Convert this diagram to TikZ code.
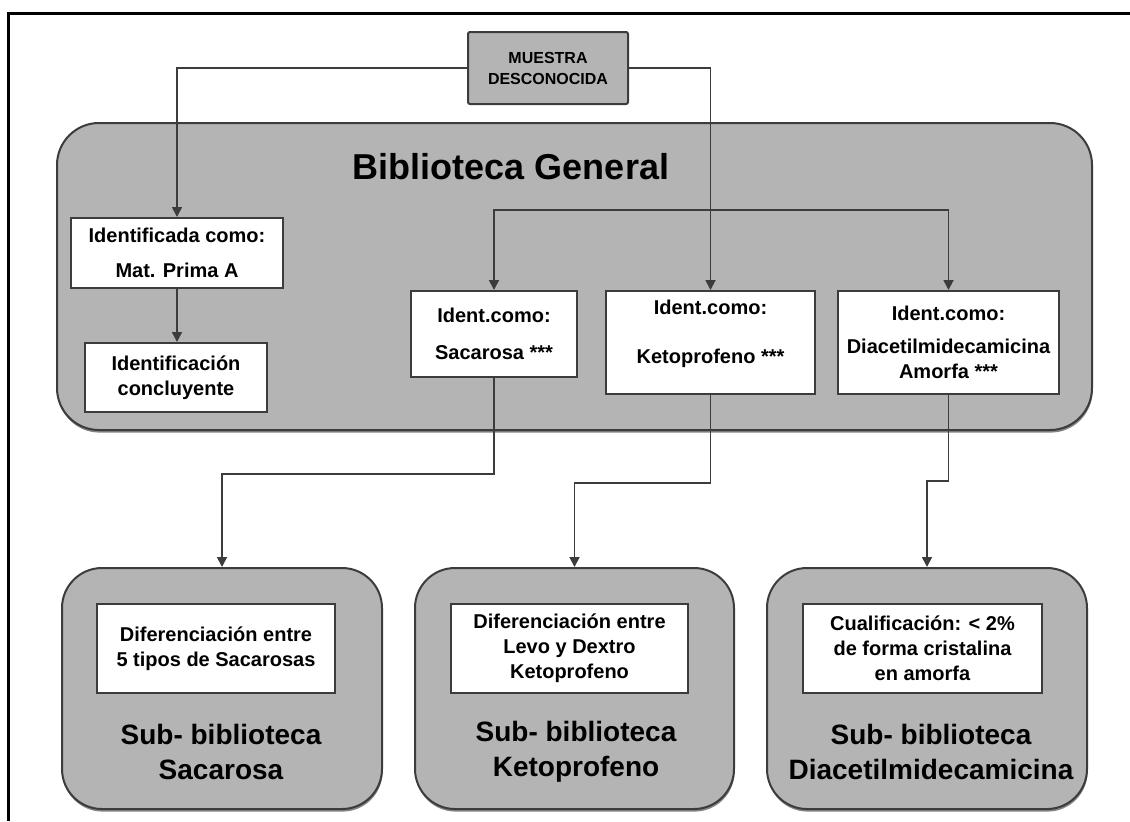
\documentclass[tikz,border=0pt]{standalone}
\usepackage{fontspec}
\setmainfont{Liberation Sans}
\usepackage{tikz}
\usetikzlibrary{arrows.meta,positioning,shadows}
\definecolor{libgray}{RGB}{180,180,180}
\definecolor{edgegray}{RGB}{60,60,60}

\begin{document}
\begin{tikzpicture}[x=0.5pt, y=-0.5pt,
    libbox/.style={rectangle, draw=edgegray, fill=libgray, line width=1pt, rounded corners=21pt, inner sep=0pt,
      drop shadow={shadow xshift=0.3pt, shadow yshift=-1.3pt, fill=black!80, opacity=0.6}},
    idbox/.style={rectangle, draw=edgegray, fill=white, line width=1pt, align=center, inner sep=2pt, font=\fontsize{10}{12.5}\selectfont\bfseries},
    muestrabox/.style={rectangle, draw=edgegray, fill=libgray, line width=1pt, rounded corners=1pt, align=center, minimum width=80pt, minimum height=36pt, font=\fontsize{8}{10.5}\selectfont\bfseries},
    libtitle/.style={font=\fontsize{18}{22}\selectfont\bfseries},
    subtitle/.style={align=center, font=\fontsize{14}{17.5}\selectfont\bfseries},
    arrow/.style={-{Triangle[width=5pt,length=5pt]}, line width=0.9pt, edgegray}
  ]
    \useasboundingbox (0,0) rectangle (1130,821);
    \draw[line width=1.5pt] (8,821) -- (8,13) -- (1130,13);

    % general library
    \node[libbox, minimum width=517.5pt, minimum height=153.5pt] (general) at (574.5,276.5) {};
    \node[libtitle] (generaltitle) at (511,167) {Biblioteca General};

    \node[muestrabox] (muestra) at (548,68) {MUESTRA\\DESCONOCIDA};
    \node[idbox, minimum width=106pt, minimum height=35pt] (identa) at (177,253) {Identificada como:\\[5pt]Mat. Prima A};
    \node[idbox, minimum width=91pt, minimum height=34.5pt] (concl) at (176,377.5) {Identificación\\concluyente};
    \node[idbox, minimum width=83pt, minimum height=43pt] (sac) at (494,334) {Ident.como:\\[6pt]Sacarosa ***};
    \node[idbox, minimum width=104.5pt, minimum height=51.5pt, text depth=11pt] (keto) at (710.5,342.5) {Ident.como:\\[12pt]Ketoprofeno ***};
    \node[idbox, minimum width=110.5pt, minimum height=51.5pt] (diac) at (948.5,342.5) {Ident.como:\\[4pt]Diacetilmidecamicina\\Amorfa ***};

    % sub-libraries
    \node[libbox, minimum width=160pt, minimum height=120.5pt, rounded corners=20pt] (subsac) at (222,688.5) {};
    \node[libbox, minimum width=159.5pt, minimum height=120.5pt, rounded corners=20pt] (subketo) at (574.5,688.5) {};
    \node[libbox, minimum width=160pt, minimum height=120.5pt, rounded corners=20pt] (subdiac) at (927,688.5) {};

    \node[idbox, minimum width=119pt, minimum height=44.5pt] (notesac) at (216,648.5) {Diferenciación entre\\5 tipos de Sacarosas};
    \node[idbox, minimum width=118.5pt, minimum height=44.5pt] (noteketo) at (569.5,648.5) {Diferenciación entre\\Levo y Dextro\\Ketoprofeno};
    \node[idbox, minimum width=119.5pt, minimum height=44.5pt] (notediac) at (922.5,648.5) {Cualificación: < 2\%\\de forma cristalina\\en amorfa};

    \node[subtitle] (titlesac) at (221,752) {Sub- biblioteca\\Sacarosa};
    \node[subtitle] (titleketo) at (576,752) {Sub- biblioteca\\Ketoprofeno};
    \node[subtitle] (titlediac) at (931,752) {Sub- biblioteca\\Diacetilmidecamicina};

    % connectors
    \coordinate (split) at (710.5,210);
    \draw[arrow] (muestra.west) -| (identa.north);
    \draw[arrow] (muestra.east) -| (keto.north);
    \draw[arrow] (identa.south) -- (identa.south |- concl.north);
    \draw[arrow] (split) -| (sac.north);
    \draw[arrow] (split) -| (diac.north);
    \draw[arrow] (sac.south) -- ++(0,96) -| (subsac.north);
    \draw[arrow] (keto.south) -- ++(0,88) -| (subketo.north);
    \draw[arrow] (diac.south) -- ++(0,86) -| (subdiac.north);
  \end{tikzpicture}
\end{document}
